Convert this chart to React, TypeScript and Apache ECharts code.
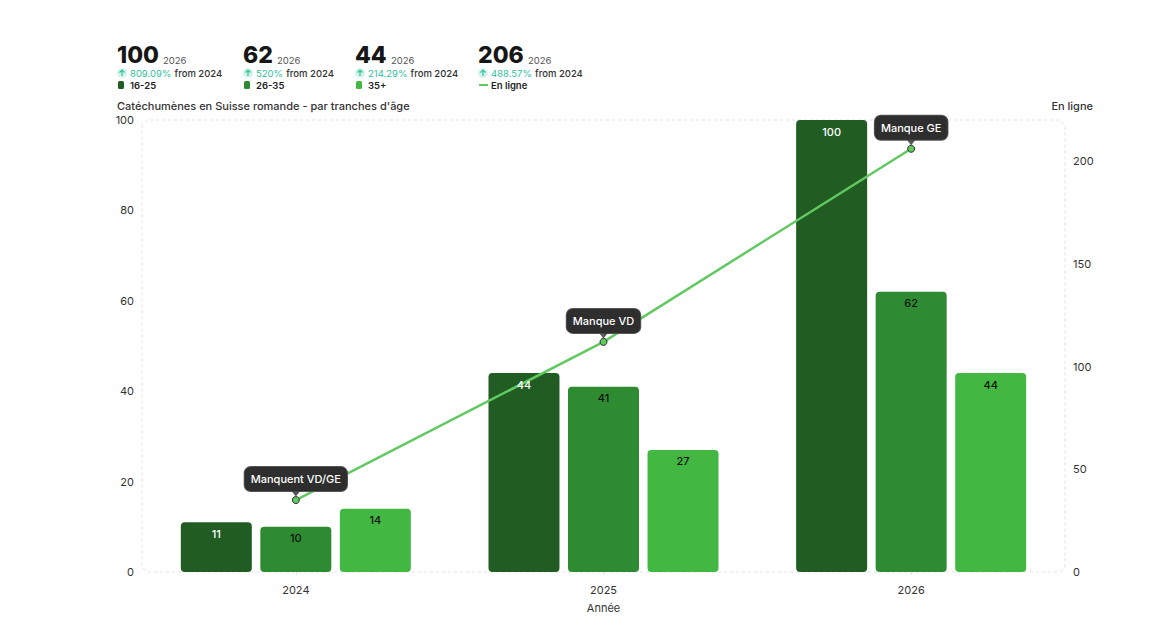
import { useEffect, useRef } from "react";
import * as echarts from "echarts";

const years = ["2024", "2025", "2026"];
const age16to25 = [11, 44, 100];
const age26to35 = [10, 41, 62];
const age35plus = [14, 27, 44];
const online = [35, 112, 206];
const notes = ["Manquent VD/GE", "Manque VD", "Manque GE"];

const leftMax = 100;
const leftStep = 20;
const rightMax = 220;
const rightStep = 50;

const DARK = "#215c22";
const MID = "#2f8b31";
const LIGHT = "#42b843";
const LINE = "#62c962";
const TEAL = "#2fbf9d";

const FONT = "Inter, 'Noto Sans', sans-serif";

const headerItems = [
  { name: "16-25", values: age16to25, color: DARK, kind: "bar" },
  { name: "26-35", values: age26to35, color: MID, kind: "bar" },
  { name: "35+", values: age35plus, color: LIGHT, kind: "bar" },
  { name: "En ligne", values: online, color: LINE, kind: "line" },
];
// column left edges and the offset of the small year after the big number
const headerX = [117, 243, 355, 478];
const yearOffset = [46, 34, 36, 50];

const growth = (v: number[]) => parseFloat((((v[v.length - 1] - v[0]) / v[0]) * 100).toFixed(2));

function buildHeader(): any[] {
  const out: any[] = [];
  headerItems.forEach((item, i) => {
    const x = headerX[i];
    out.push({
      type: "text",
      x,
      y: 55,
      style: {
        text: String(item.values[item.values.length - 1]),
        fontSize: 23,
        fontWeight: 800,
        fill: "#161616",
        fontFamily: FONT,
        verticalAlign: "middle",
      },
    });
    out.push({
      type: "text",
      x: x + yearOffset[i],
      y: 60,
      style: {
        text: years[years.length - 1],
        fontSize: 9.5,
        fill: "#555",
        fontFamily: FONT,
        verticalAlign: "middle",
      },
    });
    out.push({
      type: "group",
      x: x + 5,
      y: 73,
      children: [
        { type: "circle", shape: { cx: 0, cy: 0, r: 5 }, style: { fill: "#d3f3eb" } },
        { type: "line", shape: { x1: 0, y1: 3, x2: 0, y2: -3 }, style: { stroke: TEAL, lineWidth: 1.2 } },
        {
          type: "polyline",
          shape: { points: [[-2.5, -0.5], [0, -3], [2.5, -0.5]] },
          style: { stroke: TEAL, lineWidth: 1.2, fill: "none" },
        },
      ],
    });
    out.push({
      type: "text",
      x: x + 13,
      y: 73,
      style: {
        text: `{p|${growth(item.values)}%} {f|from ${years[0]}}`,
        verticalAlign: "middle",
        rich: {
          p: { fontSize: 9.5, fill: TEAL, fontFamily: FONT },
          f: { fontSize: 9.5, fill: "#333", fontFamily: FONT, fontWeight: 500 },
        },
      },
    });
    if (item.kind === "bar") {
      out.push({
        type: "rect",
        shape: { x: x + 1, y: 81, width: 6, height: 8, r: 1.5 },
        style: { fill: item.color },
      });
    } else {
      out.push({
        type: "line",
        shape: { x1: x + 1, y1: 85, x2: x + 10, y2: 85 },
        style: { stroke: item.color, lineWidth: 2 },
      });
    }
    out.push({
      type: "text",
      x: x + 13,
      y: 85,
      style: {
        text: item.name,
        fontSize: 9.5,
        fontWeight: 600,
        fill: "#222",
        fontFamily: FONT,
        verticalAlign: "middle",
      },
    });
  });
  return out;
}

// bar value labels as mark points, so they sit above the line
const valueMarks = (values: number[], color: string) => ({
  symbol: "circle",
  symbolSize: 0,
  silent: true,
  z: 6,
  label: {
    show: true,
    position: "bottom" as const,
    distance: 6,
    fontSize: 11,
    fontWeight: 500,
    color,
    fontFamily: FONT,
    formatter: (p: any) => String(p.value),
  },
  data: values.map((v, i) => ({ coord: [years[i], v], value: v })),
});

export default function App() {
  const ref = useRef<HTMLDivElement | null>(null);

  useEffect(() => {
    if (!ref.current) return;
    const chart = echarts.init(ref.current, undefined, { renderer: "svg" });

    chart.setOption({
      animation: false,
      textStyle: { fontFamily: FONT },
      grid: { left: 142, right: 105, top: 120, bottom: 63 },
      graphic: [
        ...buildHeader(),
        {
          type: "text",
          x: 117,
          y: 106,
          style: {
            text: "Catéchumènes en Suisse romande - par tranches d'âge",
            fontSize: 11,
            fontWeight: 500,
            fill: "#333",
            fontFamily: FONT,
            verticalAlign: "middle",
          },
        },
        {
          type: "text",
          x: 1093,
          y: 106,
          style: {
            text: "En ligne",
            fontSize: 11,
            fontWeight: 500,
            fill: "#333",
            fontFamily: FONT,
            align: "right",
            verticalAlign: "middle",
          },
        },
        {
          type: "rect",
          z: -1,
          shape: { x: 142, y: 120, width: 923, height: 452, r: 8 },
          style: { fill: "none", stroke: "#e2e2e2", lineWidth: 1, lineDash: [3, 3] },
        },
      ],
      xAxis: {
        type: "category",
        data: years,
        axisLine: { show: false },
        axisTick: {
          show: true,
          alignWithLabel: true,
          length: 6,
          lineStyle: { color: "#e2e2e2", type: [3, 3] },
        },
        axisLabel: { color: "#333", fontSize: 11, margin: 12 },
        name: "Année",
        nameLocation: "middle",
        nameGap: 30,
        nameTextStyle: { color: "#333", fontSize: 11 },
      },
      yAxis: [
        {
          type: "value",
          min: 0,
          max: leftMax,
          interval: leftStep,
          splitLine: { show: false },
          axisLine: { show: false },
          axisLabel: { color: "#333", fontSize: 11, margin: 8 },
        },
        {
          type: "value",
          min: 0,
          max: rightMax,
          interval: rightStep,
          splitLine: { show: false },
          axisLine: { show: false },
          axisLabel: { color: "#333", fontSize: 11, margin: 8, showMaxLabel: false },
        },
      ],
      series: [
        {
          name: "16-25",
          type: "bar",
          data: age16to25,
          barWidth: 71,
          barGap: "12%",
          itemStyle: { color: DARK, borderRadius: 4 },
          markPoint: valueMarks(age16to25, "#fff"),
        },
        {
          name: "26-35",
          type: "bar",
          data: age26to35,
          barWidth: 71,
          barGap: "12%",
          itemStyle: { color: MID, borderRadius: 4 },
          markPoint: valueMarks(age26to35, "#111"),
        },
        {
          name: "35+",
          type: "bar",
          data: age35plus,
          barWidth: 71,
          barGap: "12%",
          itemStyle: { color: LIGHT, borderRadius: 4 },
          markPoint: valueMarks(age35plus, "#111"),
        },
        {
          name: "En ligne",
          type: "line",
          yAxisIndex: 1,
          data: online,
          z: 3,
          lineStyle: { color: LINE, width: 2.5 },
          symbol: "circle",
          symbolSize: 7,
          itemStyle: { color: LINE, borderColor: "#2a2a2a", borderWidth: 1 },
          label: {
            show: true,
            position: "top",
            distance: 5,
            formatter: (p: any) => notes[p.dataIndex],
            backgroundColor: "#2e2e2e",
            borderColor: "#555",
            borderWidth: 1,
            borderRadius: 6,
            padding: [5, 6],
            color: "#fff",
            fontSize: 11,
            fontWeight: 500,
            lineHeight: 14,
          },
        },
        {
          name: "pointer",
          type: "scatter",
          yAxisIndex: 1,
          data: online,
          z: 4,
          silent: true,
          symbol: "triangle",
          symbolRotate: 180,
          symbolSize: [8, 5],
          symbolOffset: [0, -6],
          itemStyle: { color: "#2e2e2e" },
        },
      ],
    });

    return () => chart.dispose();
  }, []);

  return (
    <div
      ref={ref}
      style={{ position: "absolute", left: 0, top: 0, width: 1170, height: 635, background: "#fff" }}
    />
  );
}
